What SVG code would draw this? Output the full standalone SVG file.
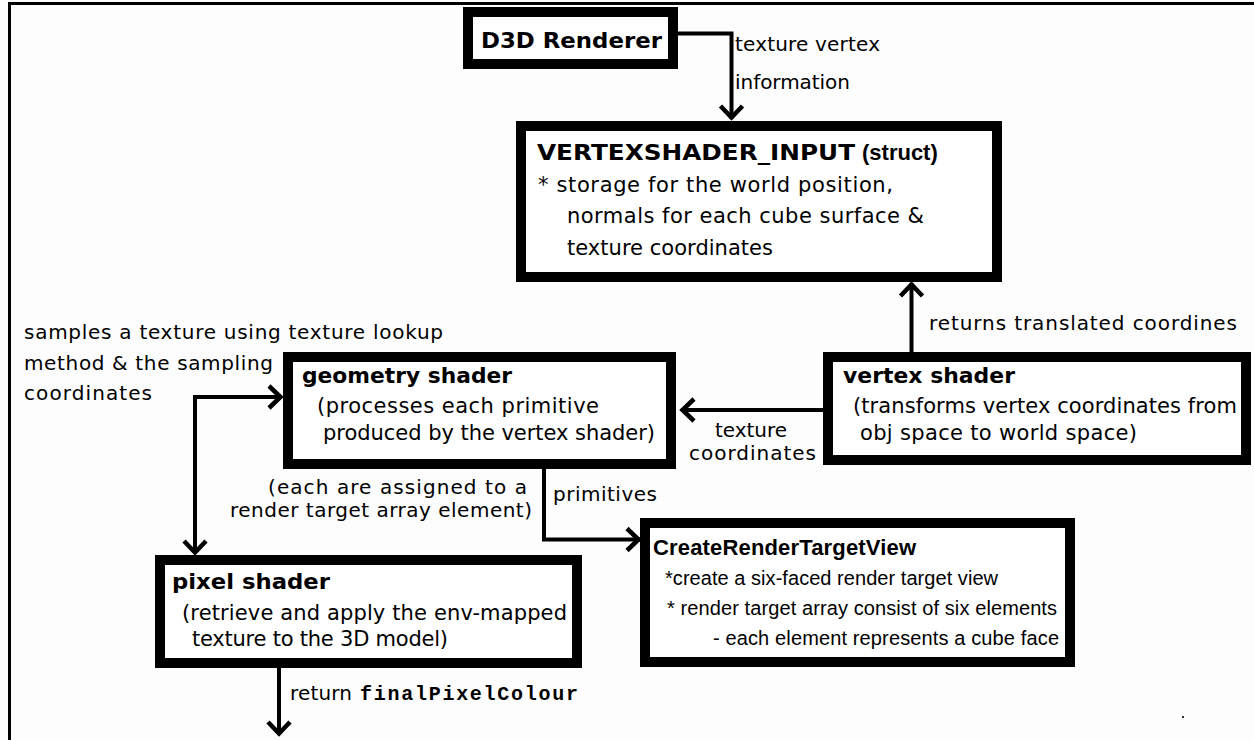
<svg xmlns="http://www.w3.org/2000/svg" width="1254" height="740" viewBox="0 0 1254 740">
  <defs>
    <style>
      .box { fill: #ffffff; stroke: #000000; stroke-width: 10; }
      .frame { fill: none; stroke: #000000; stroke-width: 3; }
      .wire { fill: none; stroke: #000000; stroke-width: 4; stroke-linejoin: miter; }
      .head { font-family: "DejaVu Sans", Verdana, sans-serif; font-weight: bold; font-size: 21px; fill: #000; }
      .body { font-family: "DejaVu Sans", Verdana, sans-serif; font-size: 21px; fill: #000; }
      .lbl { font-family: "DejaVu Sans", Verdana, sans-serif; font-size: 20px; fill: #000; }
      .arial-head { font-family: "Liberation Sans", Arial, sans-serif; font-weight: bold; font-size: 22px; fill: #000; }
      .arial { font-family: "Liberation Sans", Arial, sans-serif; font-size: 20px; fill: #000; }
      .mono { font-family: "Liberation Mono", "Courier New", monospace; font-weight: bold; font-size: 20px; fill: #000; }
    </style>
    <marker id="chev" markerUnits="userSpaceOnUse" viewBox="-18 -14 22 28" markerWidth="22" markerHeight="28" refX="0" refY="0" orient="auto-start-reverse">
      <path d="M-13,-11 L-1.5,0 L-13,11" fill="none" stroke="#000" stroke-width="4.5" stroke-linejoin="miter"/>
    </marker>
  </defs>

  <rect x="0" y="0" width="1254" height="740" fill="#fdfdfd"/>

  <!-- outer frame: top and left edges only -->
  <path class="frame" d="M9.5,740 V3.5 H1254"/>

  <g id="connectors">
    <path class="wire" d="M673,33.5 H731.5 V119" marker-end="url(#chev)"/>
    <path class="wire" d="M911.5,352 V283" marker-end="url(#chev)"/>
    <path class="wire" d="M823,410 H681" marker-end="url(#chev)"/>
    <path class="wire" d="M282,397 H195 V554" marker-start="url(#chev)" marker-end="url(#chev)"/>
    <path class="wire" d="M544,469 V539.5 H640" marker-end="url(#chev)"/>
    <path class="wire" d="M279,667 V735" marker-end="url(#chev)"/>
  </g>

  <g id="connector-labels">
    <text class="lbl" x="735" y="51" textLength="145">texture vertex</text>
    <text class="lbl" x="735" y="89" textLength="115">information</text>
    <text class="lbl" x="929" y="330" textLength="308">returns translated coordines</text>
    <text class="lbl" x="715" y="437" textLength="72">texture</text>
    <text class="lbl" x="689" y="460" textLength="127">coordinates</text>
    <text class="lbl" x="553" y="501" textLength="104">primitives</text>
    <text class="lbl" x="527" y="494" text-anchor="end" textLength="259">(each are assigned to a</text>
    <text class="lbl" x="532" y="517" text-anchor="end" textLength="302">render target array element)</text>
    <text class="lbl" x="24" y="339" textLength="419">samples a texture using texture lookup</text>
    <text class="lbl" x="24" y="370" textLength="249">method &amp; the sampling</text>
    <text class="lbl" x="24" y="400" textLength="128">coordinates</text>
    <text class="lbl" x="290" y="700" textLength="62">return</text>
    <text class="mono" x="360" y="700" textLength="218">finalPixelColour</text>
  </g>

  <g id="d3d-renderer">
    <rect class="box" x="468" y="12" width="205" height="52"/>
    <text class="head" x="481" y="48" font-size="22" textLength="181" lengthAdjust="spacingAndGlyphs">D3D Renderer</text>
  </g>

  <g id="vertexshader-input">
    <rect class="box" x="521" y="126" width="476" height="151"/>
    <text class="head" x="537" y="160" textLength="318" lengthAdjust="spacingAndGlyphs">VERTEXSHADER_INPUT</text>
    <text class="arial-head" x="862" y="160" font-size="16">(struct)</text>
    <text class="body" x="538" y="192" textLength="355">* storage for the world position,</text>
    <text class="body" x="567" y="223" textLength="357">normals for each cube surface &amp;</text>
    <text class="body" x="567" y="255" textLength="206">texture coordinates</text>
  </g>

  <g id="geometry-shader">
    <rect class="box" x="288" y="357" width="383" height="107"/>
    <text class="head" x="302" y="383" textLength="210" lengthAdjust="spacingAndGlyphs">geometry shader</text>
    <text class="body" x="317" y="413" textLength="282">(processes each primitive</text>
    <text class="body" x="323" y="440" textLength="332">produced by the vertex shader)</text>
  </g>

  <g id="vertex-shader">
    <rect class="box" x="828" y="357" width="418" height="103"/>
    <text class="head" x="843" y="383" textLength="172" lengthAdjust="spacingAndGlyphs">vertex shader</text>
    <text class="body" x="853" y="413" textLength="384">(transforms vertex coordinates from</text>
    <text class="body" x="860" y="440" textLength="277">obj space to world space)</text>
  </g>

  <g id="create-render-target-view">
    <rect class="box" x="645" y="523" width="425" height="139"/>
    <text class="arial-head" x="653" y="555" textLength="263">CreateRenderTargetView</text>
    <text class="arial" x="665" y="585" textLength="333">*create a six-faced render target view</text>
    <text class="arial" x="667" y="615" textLength="390">* render target array consist of six elements</text>
    <text class="arial" x="713" y="645" textLength="346">- each element represents a cube face</text>
  </g>

  <g id="pixel-shader">
    <rect class="box" x="160" y="560" width="417" height="103"/>
    <text class="head" x="172" y="589" textLength="158" lengthAdjust="spacingAndGlyphs">pixel shader</text>
    <text class="body" x="182" y="620" textLength="385">(retrieve and apply the env-mapped</text>
    <text class="body" x="192" y="646" textLength="256">texture to the 3D model)</text>
  </g>

  <rect x="1182" y="716" width="2" height="2" fill="#333"/>
</svg>
